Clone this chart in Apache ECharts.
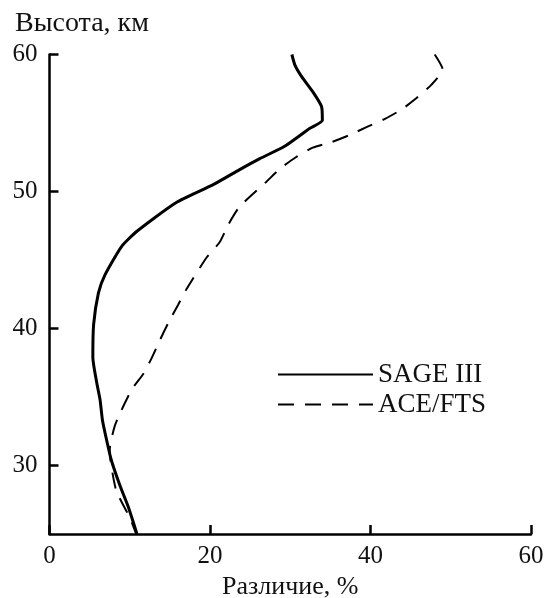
<!DOCTYPE html>
<html>
<head>
<meta charset="utf-8">
<script src="https://cdn.jsdelivr.net/npm/echarts@6/dist/echarts.min.js"></script>
<style>
    html, body { margin: 0; padding: 0; background: #fff; }
    #chart { width: 546px; height: 598px; }
</style>
</head>
<body>
<div id="chart"></div>
<script>
// altitude (km) and difference (%)
const sageAlt = [60.0, 59.2, 58.4, 57.2, 56.2, 55.2, 54.6, 53.3, 52.4, 51.6, 50.5, 49.2, 47.1, 46.0, 43.9, 42.6, 40.3, 37.9, 36.0, 34.8, 33.3, 31.9, 30.4, 28.5, 27.0, 25.0];
const sageDiff = [30.2, 30.6, 31.4, 32.9, 33.9, 34.0, 32.4, 29.3, 26.2, 23.7, 20.4, 15.8, 10.9, 9.0, 6.9, 6.1, 5.5, 5.4, 5.9, 6.3, 6.6, 7.1, 7.7, 8.8, 9.8, 10.9];

const aceAlt = [60.0, 58.9, 57.8, 56.8, 56.0, 55.3, 54.7, 54.1, 53.6, 53.2, 52.5, 51.7, 50.7, 48.9, 47.6, 46.3, 45.2, 42.9, 41.7, 40.4, 39.2, 37.8, 36.7, 35.5, 33.0, 31.1, 28.2, 26.2, 25.0];
const aceDiff = [48.0, 49.0, 47.6, 45.7, 43.9, 41.8, 39.5, 37.3, 35.1, 32.8, 30.7, 28.8, 27.0, 23.7, 22.3, 21.2, 19.6, 17.1, 16.0, 14.8, 13.8, 12.7, 11.7, 10.2, 8.2, 7.5, 8.3, 10.0, 10.8];

const altTicks = [30, 40, 50, 60];

const serif = '"Liberation Serif", "DejaVu Serif", serif';

const toPairs = (xs, ys) => xs.map((x, i) => [x, ys[i]]);

const chart = echarts.init(document.getElementById('chart'));

const option = {
    animation: false,
    title: {
        text: 'Высота, км',
        left: 10,
        top: 5,
        textStyle: { fontFamily: serif, fontSize: 28, fontWeight: 'normal', color: '#111' }
    },
    legend: {
        orient: 'vertical',
        left: 272,
        top: 356,
        itemWidth: 95,
        itemHeight: 20,
        itemGap: 3,
        itemStyle: { opacity: 0 },
        textStyle: { fontFamily: serif, fontSize: 27, color: '#111' },
        data: ['SAGE III', 'ACE/FTS']
    },
    grid: { left: 49.5, right: 15, top: 54.5, bottom: 64, outerBoundsMode: 'none' },
    xAxis: {
        type: 'value',
        min: 0,
        max: 60,
        interval: 20,
        name: 'Различие, %',
        nameLocation: 'middle',
        nameGap: 38,
        nameTextStyle: { fontFamily: serif, fontSize: 26, color: '#111' },
        axisLine: { lineStyle: { color: '#000', width: 2.5 } },
        axisTick: { inside: true, length: 9, lineStyle: { color: '#000', width: 2.5 } },
        axisLabel: { fontFamily: serif, fontSize: 25, color: '#111', margin: 10 },
        splitLine: { show: false }
    },
    yAxis: {
        type: 'value',
        min: 25,
        max: 60,
        axisLine: { show: true, lineStyle: { color: '#000', width: 2.5 } },
        axisTick: { show: true, inside: true, length: 9, customValues: altTicks, lineStyle: { color: '#000', width: 2.5 } },
        axisLabel: { fontFamily: serif, fontSize: 25, color: '#111', margin: 12, customValues: altTicks },
        splitLine: { show: false }
    },
    series: [
        {
            name: 'SAGE III',
            type: 'line',
            symbol: 'none',
            smooth: 0.2,
            itemStyle: { color: '#000' },
            lineStyle: { color: '#000', width: 3 },
            data: toPairs(sageDiff, sageAlt)
        },
        {
            name: 'ACE/FTS',
            type: 'line',
            symbol: 'none',
            smooth: 0.2,
            itemStyle: { color: '#000' },
            lineStyle: { color: '#000', width: 2, type: [16, 11] },
            data: toPairs(aceDiff, aceAlt)
        }
    ]
};

chart.setOption(option);
</script>
</body>
</html>
